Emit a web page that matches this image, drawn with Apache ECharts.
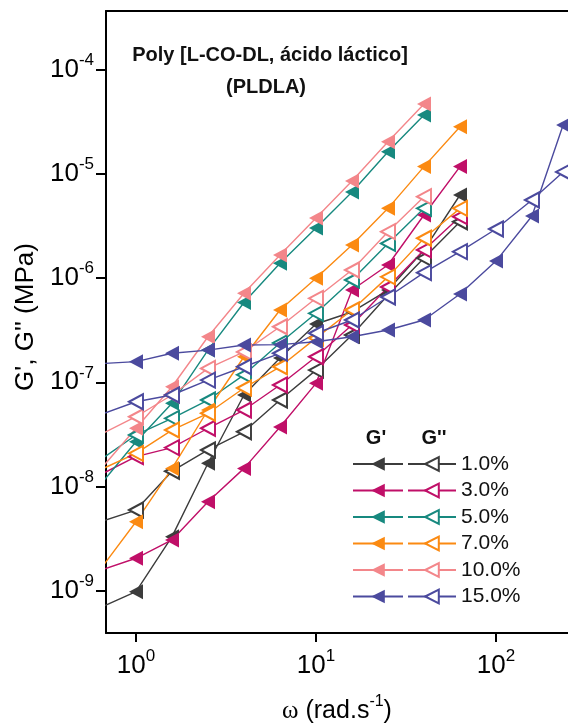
<!DOCTYPE html>
<html><head><meta charset="utf-8">
<script src="https://cdn.jsdelivr.net/npm/echarts@6/dist/echarts.min.js"></script>
<style>html,body{margin:0;padding:0;background:#fff}#c{width:568px;height:726px}</style>
</head><body><div id="c"></div>
<script>
// ---- data ----
const concs = ['1.0%', '3.0%', '5.0%', '7.0%', '10.0%', '15.0%'];
const colors = ['#3c3c3c', '#c00f68', '#17897f', '#fb8a12', '#f3868a', '#4b4a9e'];
const freq = [0.631, 1, 1.585, 2.512, 3.981, 6.31, 10, 15.85, 25.12, 39.81, 63.1];
const freq15 = [0.631, 1, 1.585, 2.512, 3.981, 6.31, 10, 15.85, 25.12, 39.81, 63.1, 100, 158.5, 236];

const gp1 = [6.84e-10, 9.74e-10, 3.29e-9, 1.67e-8, 7.55e-8, 1.71e-7, 3.63e-7, 4.74e-7, 7.7e-7, 1.87e-6, 6.3e-6];
const gd1 = [4.55e-9, 5.93e-9, 1.4e-8, 2.24e-8, 3.35e-8, 6.76e-8, 1.31e-7, 2.85e-7, 6.9e-7, 1.56e-6, 3.49e-6];
const gp3 = [1.56e-9, 2.04e-9, 3.06e-9, 7.13e-9, 1.49e-8, 3.72e-8, 9.78e-8, 7.7e-7, 1.34e-6, 4.05e-6, 1.18e-5];
const gd3 = [1.29e-8, 1.93e-8, 2.36e-8, 3.62e-8, 5.42e-8, 9.42e-8, 1.76e-7, 3.55e-7, 8.23e-7, 1.87e-6, 3.9e-6];
const gp5 = [1.03e-8, 2.69e-8, 6.28e-8, 2.04e-7, 5.84e-7, 1.39e-6, 3.04e-6, 6.73e-6, 1.64e-5, 3.7e-5];
const gd5 = [1.79e-8, 3.12e-8, 4.51e-8, 6.76e-8, 1.18e-7, 2.39e-7, 4.6e-7, 9.61e-7, 2.16e-6, 4.69e-6];
const gp7 = [1.58e-9, 4.58e-9, 1.49e-8, 5.42e-8, 1.76e-7, 4.95e-7, 9.98e-7, 2.08e-6, 4.69e-6, 1.18e-5, 2.85e-5];
const gd7 = [1.44e-8, 2.08e-8, 3.48e-8, 5.04e-8, 8.82e-8, 1.41e-7, 2.66e-7, 4.95e-7, 1.03e-6, 2.42e-6, 4.69e-6];
const gp10 = [1.44e-8, 3.62e-8, 9.07e-8, 2.74e-7, 7.16e-7, 1.67e-6, 3.79e-6, 8.59e-6, 2.05e-5, 4.72e-5];
const gd10 = [3.14e-8, 4.67e-8, 7.55e-8, 1.36e-7, 1.96e-7, 3.42e-7, 6.41e-7, 1.2e-6, 2.8e-6, 6.07e-6];
const gp15 = [1.51e-7, 1.58e-7, 1.9e-7, 2.04e-7, 2.28e-7, 2.3e-7, 2.45e-7, 2.74e-7, 3.18e-7, 3.97e-7, 7.05e-7, 1.46e-6, 3.96e-6, 2.96e-5];
const gd15 = [4.86e-8, 6.51e-8, 7.55e-8, 1.05e-7, 1.41e-7, 1.9e-7, 2.96e-7, 3.97e-7, 6.6e-7, 1.13e-6, 1.8e-6, 2.97e-6, 5.64e-6, 1.05e-5];

const xTicks = [1, 10, 100];
const yTicks = [1e-9, 1e-8, 1e-7, 1e-6, 1e-5, 1e-4];
const titleLines = ['Poly [L-CO-DL, ácido láctico]', '(PLDLA)'];

const gPrime = [gp1, gp3, gp5, gp7, gp10, gp15];
const gDouble = [gd1, gd3, gd5, gd7, gd10, gd15];
const freqs = [freq, freq, freq, freq, freq, freq15];

// ---- chart ----
const FONT = '"Liberation Sans", Arial, sans-serif';
const chart = echarts.init(document.getElementById('c'), null, {renderer: 'canvas'});

function mk(name, fr, vals, col, filled) {
  return {
    name: name, type: 'line',
    data: vals.map((v, i) => [fr[i], v]),
    symbol: 'triangle', symbolRotate: 90, symbolSize: [15, 14],
    showAllSymbol: true, clip: true, silent: true,
    lineStyle: {color: col, width: 1.4},
    itemStyle: filled ? {color: col, borderWidth: 0} : {color: '#ffffff', borderColor: col, borderWidth: 2},
    emphasis: {disabled: true}
  };
}
const series = [];
const namesP = [], namesD = [];
concs.forEach((c, k) => {
  series.push(mk("G' " + c, freqs[k], gPrime[k], colors[k], true));
  series.push(mk("G'' " + c, freqs[k], gDouble[k], colors[k], false));
  namesP.push("G' " + c); namesD.push("G'' " + c);
});

const richLab = {
  b: {fontSize: 26, fontFamily: FONT, color: '#000', lineHeight: 36},
  s: {fontSize: 17, fontFamily: FONT, color: '#000', verticalAlign: 'top'}
};
function supLabel(v) {
  const e = Math.round(Math.log10(v));
  return '{b|10}{s|' + e + '}';
}
const X_MIN = 0.6813, X_MAX = 251.2;
const legText = {fontSize: 21, fontFamily: FONT, color: '#111'};

const option = {
  animation: false,
  backgroundColor: '#fff',
  grid: {left: 106, top: 11, right: 0, bottom: 93, show: false, containLabel: false, outerBoundsMode: 'none'},
  xAxis: [{
    type: 'log', logBase: 10, min: X_MIN, max: X_MAX,
    axisLine: {show: true, onZero: false, lineStyle: {color: '#000', width: 2}},
    axisTick: {show: true, inside: false, length: 9, lineStyle: {color: '#000', width: 2}, customValues: xTicks},
    axisLabel: {customValues: xTicks, formatter: supLabel, rich: richLab, margin: 15},
    splitLine: {show: false}, minorTick: {show: false},
    name: '{w|ω} (rad.s{s|-1})', nameLocation: 'middle', nameGap: 61,
    nameTextStyle: {fontSize: 25, fontFamily: FONT, color: '#000', lineHeight: 34,
      rich: {w: {fontSize: 25, fontFamily: '"Liberation Serif", serif', color: '#000', lineHeight: 34},
             s: {fontSize: 16, fontFamily: FONT, color: '#000', verticalAlign: 'top'}}}
  }, {
    type: 'log', logBase: 10, min: X_MIN, max: X_MAX, position: 'top',
    axisLine: {show: true, onZero: false, lineStyle: {color: '#000', width: 2}},
    axisTick: {show: false}, axisLabel: {show: false}, splitLine: {show: false}
  }],
  yAxis: {
    type: 'log', logBase: 10, min: 3.908e-10, max: 3.688e-4,
    axisLine: {show: true, onZero: false, lineStyle: {color: '#000', width: 2}},
    axisTick: {show: true, inside: false, length: 10, lineStyle: {color: '#000', width: 2}, customValues: yTicks},
    axisLabel: {customValues: yTicks, formatter: supLabel, rich: richLab, margin: 12},
    splitLine: {show: false}, minorTick: {show: false},
    name: "G', G'' (MPa)", nameLocation: 'middle', nameGap: 53, nameRotate: 90,
    nameTextStyle: {fontSize: 26, fontFamily: FONT, color: '#000', padding: [0, 0, 0, 10]}
  },
  legend: [
    {orient: 'vertical', left: 352, top: 453.5, padding: 0, itemWidth: 50, itemHeight: 17, itemGap: 5.5,
     selectedMode: false, data: namesP, formatter: n => n.replace("G' ", ''),
     textStyle: Object.assign({}, legText, {color: 'rgba(0,0,0,0)'})},
    {orient: 'vertical', left: 407, top: 453.5, padding: 0, itemWidth: 48, itemHeight: 17, itemGap: 5.5,
     selectedMode: false, data: namesD, formatter: n => n.replace("G'' ", ''),
     textStyle: legText}
  ],
  graphic: [
    {type: 'text', x: 270, y: 55, style: {text: titleLines[0], font: 'bold 20px ' + FONT, fill: '#111', textAlign: 'center', textVerticalAlign: 'middle'}},
    {type: 'text', x: 266, y: 87, style: {text: titleLines[1], font: 'bold 20px ' + FONT, fill: '#111', textAlign: 'center', textVerticalAlign: 'middle'}},
    {type: 'text', x: 376, y: 438, style: {text: "G'", font: 'bold 20px ' + FONT, fill: '#111', textAlign: 'center', textVerticalAlign: 'middle'}},
    {type: 'text', x: 434, y: 438, style: {text: "G''", font: 'bold 20px ' + FONT, fill: '#111', textAlign: 'center', textVerticalAlign: 'middle'}}
  ],
  series: series
};
chart.setOption(option);
</script></body></html>
